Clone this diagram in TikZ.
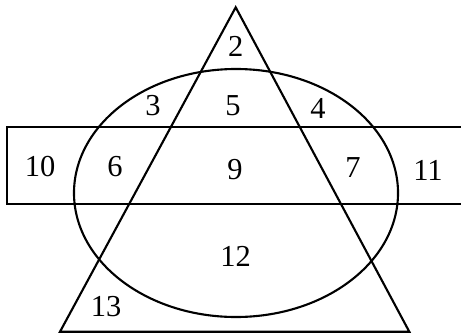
\documentclass[tikz,border=0pt]{standalone}
\usepackage{fontspec}
\setmainfont{Liberation Serif}
\tikzset{
  setline/.style={draw=black, line width=1.8pt},
  region/.style={inner sep=0pt, font=\fontsize{26}{30}\selectfont},
}
\begin{document}
\begin{tikzpicture}[x=0.03cm, y=-0.03cm]
  \useasboundingbox (0,0) rectangle (461,334);
  \clip (0,0) rectangle (461,334);
  % the three sets
  \draw[setline] (7.3,126.7) rectangle (480,204.3);
  \draw[setline] (236,193) ellipse [x radius=4.86cm, y radius=3.72cm];
  \draw[setline] (235.7,7.3) -- (409.3,331.7) -- (60,331.7) -- cycle;
  % region numbers
  \node[region] (r2) at (235.7,46.7) {2};
  \node[region] (r3) at (153,106) {3};
  \node[region] (r5) at (233,106) {5};
  \node[region] (r4) at (318,108) {4};
  \node[region] (r10) at (40,167) {10};
  \node[region] (r6) at (115,167) {6};
  \node[region] (r9) at (235,170) {9};
  \node[region] (r7) at (353,168) {7};
  \node[region] (r11) at (428,170) {11};
  \node[region] (r12) at (235.7,256.7) {12};
  \node[region] (r13) at (106,306.7) {13};
\end{tikzpicture}
\end{document}
